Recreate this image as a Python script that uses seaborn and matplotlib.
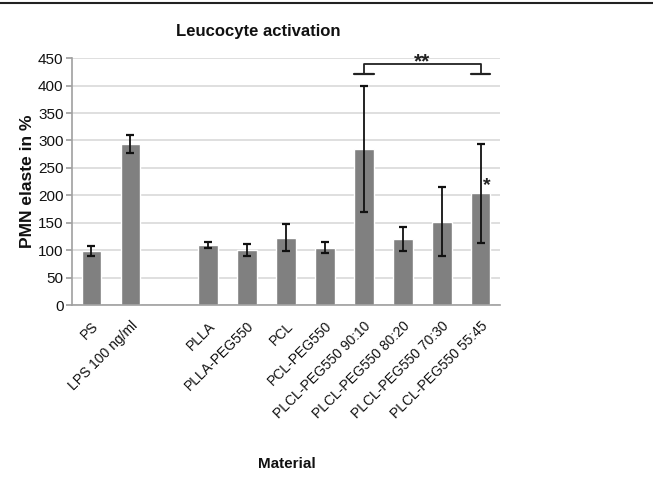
import matplotlib
matplotlib.use("Agg")
import matplotlib.pyplot as plt
import seaborn as sns
import numpy as np
import pandas as pd
from matplotlib.lines import Line2D

materials = ["PS", "LPS 100 ng/ml", " ", "PLLA", "PLLA-PEG550", "PCL", "PCL-PEG550",
             "PLCL-PEG550 90:10", "PLCL-PEG550 80:20", "PLCL-PEG550 70:30", "PLCL-PEG550 55:45"]
elastase = [99, 294, np.nan, 110, 101, 123, 105, 284, 121, 152, 204]
errors = [9, 16, np.nan, 5, 11, 24, 10, 115, 22, 63, 90]

bracket_from = "PLCL-PEG550 90:10"
bracket_to = "PLCL-PEG550 55:45"
bracket_top = 440
bracket_foot = 421
double_star_y = 444
single_star_y = 217

sns.set_theme(style="white")
plt.rcParams['font.family'] = ['Liberation Sans', 'DejaVu Sans']

df = pd.DataFrame({"Material": materials, "PMN": elastase, "err": errors})

fig = plt.figure(figsize=(6.53, 4.97), dpi=100)
ax = fig.add_axes([0.110, 0.386, 0.656, 0.497])

sns.barplot(data=df, x="Material", y="PMN", order=materials, color="#808080",
            saturation=1, width=0.5, errorbar=None, ax=ax, zorder=2)

xpos = np.arange(len(materials))
ax.errorbar(xpos, df["PMN"], yerr=df["err"], fmt="none", ecolor="#111111",
            elinewidth=1.3, capsize=2.6, capthick=1.6, zorder=3)

ax.set_ylim(0, 450)
ax.set_xlim(-0.5, len(materials) - 0.5)
ax.set_yticks(np.arange(0, 451, 50))
ax.yaxis.grid(True, color="#d9d9d9", linewidth=1.2, zorder=0)
ax.set_axisbelow(True)
for s in ["top", "right"]:
    ax.spines[s].set_visible(False)
for s in ["left", "bottom"]:
    ax.spines[s].set_color("#a0a0a0")
    ax.spines[s].set_linewidth(1.2)
ax.tick_params(axis="y", which="both", left=True, length=4, color="#a0a0a0",
               labelsize=11, labelcolor="#111111", pad=2)
ax.tick_params(axis="x", bottom=False, labelsize=10, labelcolor="#111111", pad=4)
ax.set_xticks(xpos)
ax.set_xticklabels(materials, rotation=45, ha="right", rotation_mode="anchor")

ax.set_xlabel("")
ax.set_ylabel("")
fig.text(28 / 653, 1 - 181.5 / 497, "PMN elaste in %", rotation=90, ha="center",
         va="center", fontsize=12.5, fontweight="bold", color="#111111")
fig.text(258.6 / 653, 1 - 36 / 497, "Leucocyte activation", ha="center",
         va="baseline", fontsize=12, fontweight="bold", color="#111111")
fig.text(0.44, 0.066, "Material", ha="center", va="center", fontsize=11,
         fontweight="bold", color="#111111")

i0 = materials.index(bracket_from)
i1 = materials.index(bracket_to)
lc = "#222222"
ax.plot([i0, i0, i1, i1], [bracket_foot, bracket_top, bracket_top, bracket_foot],
        color=lc, linewidth=1.3, clip_on=False, zorder=4)
for i in (i0, i1):
    ax.plot([i - 0.25, i + 0.25], [bracket_foot, bracket_foot], color=lc,
            linewidth=1.6, clip_on=False, zorder=4)
ax.text((i0 + i1) / 2, double_star_y, "**", ha="center", va="center",
        fontsize=15, fontweight="bold", color="#222222")
ax.text(i1 + 0.15, single_star_y, "*", ha="center", va="center",
        fontsize=14, fontweight="bold", color="#222222")

fig.add_artist(Line2D([0, 1], [0.994, 0.994], transform=fig.transFigure,
                      color="#222222", linewidth=1.5))

fig.savefig("out.png", dpi=100)
